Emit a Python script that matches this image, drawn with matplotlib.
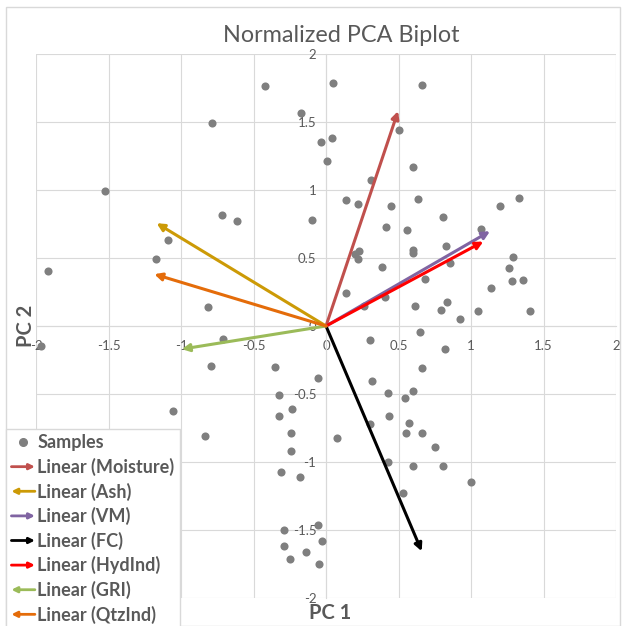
#import libraries
import matplotlib
matplotlib.use("Agg")
import matplotlib.pyplot as plt
import matplotlib.patches as mpatches
from matplotlib.lines import Line2D
from matplotlib.legend_handler import HandlerBase
import numpy as np

#sample scores (PC 1, PC 2)
sample_pc1 = [0.05, 0.66, -0.17, 0.506, -0.036, 0.04, 0.009, 0.60, 0.308, 0.14,
              0.22, 0.45, 0.634, -0.097, 0.416, 0.56, 0.81, 1.07, 1.20, 1.333,
              0.20, 0.228, 0.22, 0.60, 0.60, 0.83, 0.857, 0.384, 0.68, 1.264,
              1.288, 1.28, 1.356, 1.136, 0.14, 0.405, 0.26, 0.616, 0.832, 0.795,
              0.924, 1.046, 1.41, 0.648, 0.306, 0.82,
              -0.354, 0.664, -0.057, 0.32, -0.326, 0.43, 0.547, 0.60, -0.232, -0.324,
              0.437, 0.30, 0.575, -0.239, 0.554, 0.662, 0.078, 0.75, -0.241, 0.428,
              0.598, 0.81, -0.31, -0.177, 1.0, 0.533, -0.055, -0.288, -0.03, -0.29,
              -0.138, -0.248, -0.048,
              -0.784, -1.524, -0.717, -0.614, -1.088, -1.174, -0.816, -0.71, -0.42, -0.79,
              -1.055, -0.834, -1.914, -1.966]
sample_pc2 = [1.79, 1.77, 1.565, 1.443, 1.35, 1.384, 1.21, 1.17, 1.077, 0.925,
              0.90, 0.886, 0.935, 0.776, 0.73, 0.707, 0.80, 0.71, 0.886, 0.94,
              0.53, 0.548, 0.496, 0.56, 0.535, 0.585, 0.462, 0.437, 0.347, 0.428,
              0.51, 0.33, 0.335, 0.283, 0.239, 0.212, 0.148, 0.148, 0.18, 0.114,
              0.053, 0.107, 0.107, -0.045, -0.10, -0.17,
              -0.303, -0.31, -0.38, -0.408, -0.506, -0.489, -0.528, -0.477, -0.61, -0.66,
              -0.665, -0.72, -0.71, -0.79, -0.79, -0.79, -0.82, -0.89, -0.92, -1.0,
              -1.033, -1.033, -1.07, -1.11, -1.146, -1.23, -1.46, -1.50, -1.58, -1.62,
              -1.66, -1.71, -1.75,
              1.49, 0.994, 0.818, 0.771, 0.634, 0.494, 0.141, -0.092, 1.763, -0.292,
              -0.628, -0.81, 0.402, -0.148]

#variable loadings
loading_names = ["Moisture", "Ash", "VM", "FC", "HydInd", "GRI", "QtzInd"]
loading_pc1 = [0.497, -1.168, 1.131, 0.66, 1.085, -0.995, -1.184]
loading_pc2 = [1.58, 0.756, 0.697, -1.656, 0.621, -0.17, 0.381]
loading_colors = ["#C0504D", "#CC9A06", "#8064A2", "#000000", "#FF0000", "#9BBB59", "#E46C0A"]

#tick values
ticks = [-2, -1.5, -1, -0.5, 0, 0.5, 1, 1.5, 2]
tick_labels = ["-2", "-1.5", "-1", "-0.5", "0", "0.5", "1", "1.5", "2"]

text_color = "#595959"
grid_color = "#D9D9D9"
plt.rcParams['font.family'] = ['Lato', 'DejaVu Sans']


#legend handler drawing an arrow
class ArrowHandler(HandlerBase):
    def __init__(self, left=False):
        super().__init__()
        self.left = left

    def create_artists(self, legend, orig_handle, xdescent, ydescent,
                       width, height, fontsize, trans):
        y = height / 2 - ydescent
        start, end = (-xdescent, y), (width - xdescent, y)
        if self.left:
            start, end = end, start
        arrow = mpatches.FancyArrowPatch(start, end, arrowstyle='-|>', mutation_scale=8,
                                         lw=2, color=orig_handle.get_facecolor(),
                                         shrinkA=0, shrinkB=0, transform=trans)
        return [arrow]
#END


#set figure size
fig = plt.figure(figsize=(6.24, 6.26), dpi=100)
ax = fig.add_axes([36 / 624, 1 - 598 / 626, 580 / 624, 544 / 626])

#plot samples
ax.scatter(sample_pc1, sample_pc2, s=34, color="#7F7F7F", zorder=3, linewidths=0)

#plot loading arrows
for name, x, y, c in zip(loading_names, loading_pc1, loading_pc2, loading_colors):
    ax.annotate("", xy=(x, y), xytext=(0, 0),
                arrowprops=dict(arrowstyle='-|>', color=c, lw=2.2, mutation_scale=11,
                                shrinkA=0, shrinkB=0), zorder=4)

#axes setup
ax.set_xlim(-2, 2)
ax.set_ylim(-2, 2)
ax.set_xticks(ticks)
ax.set_xticklabels(tick_labels)
ax.set_yticks(ticks)
ax.set_yticklabels(tick_labels)
ax.grid(True, color=grid_color, lw=0.8)
ax.set_axisbelow(True)
for side in ["top", "right"]:
    ax.spines[side].set_visible(False)
ax.spines["left"].set_position(("data", 0))
ax.spines["bottom"].set_position(("data", 0))
ax.spines["left"].set_color(grid_color)
ax.spines["bottom"].set_color(grid_color)
ax.tick_params(axis="x", length=0, pad=10, labelsize=9.5, labelcolor=text_color)
ax.tick_params(axis="y", length=0, pad=7, labelsize=9.5, labelcolor=text_color)

#title and axis titles
fig.text(341 / 624, 1 - 35 / 626, "Normalized PCA Biplot", ha="center", va="center",
         fontsize=16.8, color=text_color)
fig.text(26 / 624, 1 - 326 / 626, "PC 2", ha="center", va="center", rotation=90,
         fontsize=14.5, fontweight="bold", color=text_color)
fig.text(330 / 624, 1 - 613 / 626, "PC 1", ha="center", va="center",
         fontsize=14.5, fontweight="bold", color=text_color)

#legend
handles = [Line2D([], [], marker="o", ls="none", color="#7F7F7F", markersize=5.5, label="Samples")]
handler_map = {}
for name, x, c in zip(loading_names, loading_pc1, loading_colors):
    h = mpatches.Patch(color=c, label="Linear (" + name + ")")
    handles.append(h)
    handler_map[h] = ArrowHandler(left=x < 0)
leg = fig.legend(handles=handles, handler_map=handler_map, loc="upper left",
                 bbox_to_anchor=(6 / 624, 1 - 429 / 626), bbox_transform=fig.transFigure,
                 borderaxespad=0, borderpad=0.3, handlelength=1.3, handletextpad=0.12,
                 labelspacing=0.36, fancybox=False, framealpha=1,
                 prop={"weight": "bold", "size": 13})
leg.get_frame().set_edgecolor(grid_color)
for t in leg.get_texts():
    t.set_color(text_color)

#chart border
fig.patches.append(mpatches.Rectangle((6 / 624, 0.0), 614 / 624, 1 - 7 / 626,
                                      transform=fig.transFigure, fill=False,
                                      edgecolor=grid_color, lw=1))

fig.savefig("out.png", dpi=100)
